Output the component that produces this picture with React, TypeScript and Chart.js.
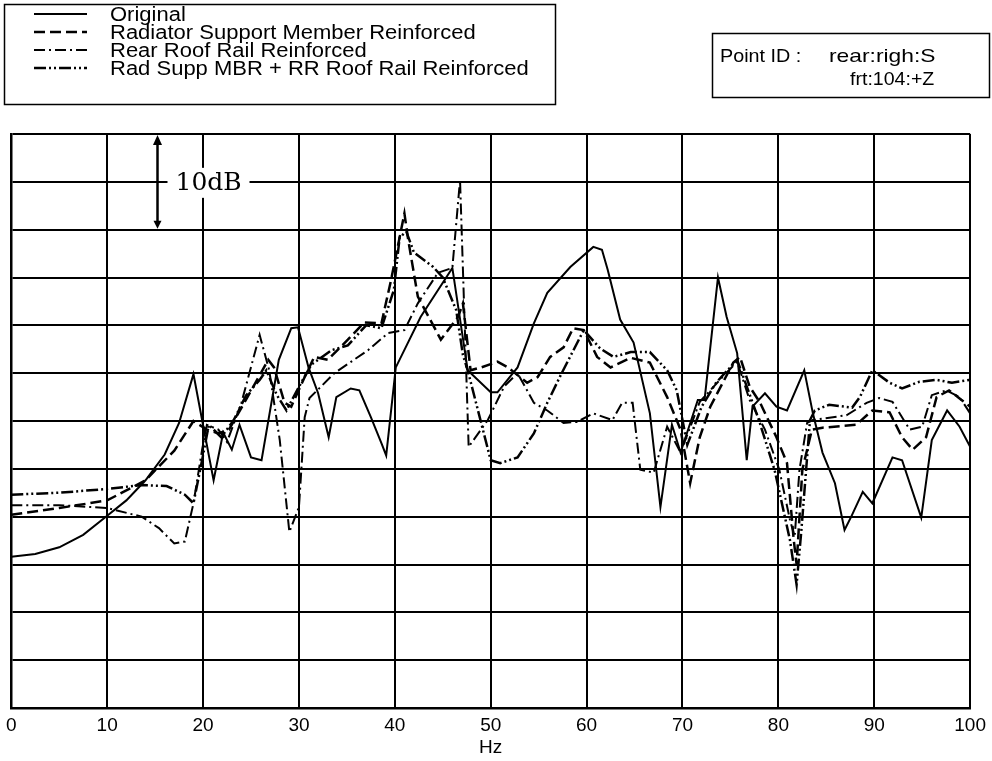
import React, { useEffect, useRef } from 'react';
import { Chart, registerables } from 'chart.js';

Chart.register(...registerables);

// ---- Data (frequency in Hz, relative level in dB; grid = 5 dB) ----
const ORIGINAL_HZ = [0, 2.5, 5, 7.5, 10, 12, 14, 16, 17.5, 19, 19.9, 21.1, 22.1, 23, 23.8, 25, 26.1, 27.9, 29.2, 29.9, 31, 32, 33.1, 33.9, 35.4, 36.3, 37.5, 38.6, 39.1, 40.1, 42.7, 46, 47.6, 50, 50.7, 52.8, 54.5, 55.9, 58.3, 60.7, 61.6, 62.2, 63.5, 64.9, 66.6, 67.7, 68.9, 69.8, 71.6, 72.3, 73.7, 74.6, 75.7, 76.7, 77.3, 78.6, 79.8, 80.9, 82.7, 83.6, 84.6, 85.9, 86.9, 87.6, 88.8, 89.8, 91.9, 92.9, 94.9, 96, 97.6, 98.9, 100];
const ORIGINAL_DB = [15.8, 16.1, 16.8, 18.1, 20.1, 21.7, 23.8, 26.5, 29.8, 34.9, 30.1, 23.8, 28.8, 27, 29.6, 26.2, 25.9, 36.4, 39.7, 39.8, 35.6, 32.9, 28.3, 32.5, 33.4, 33.2, 30.4, 27.7, 26.4, 35.6, 40.9, 46, 35.3, 33, 33, 35.6, 40.2, 43.4, 46.1, 48.2, 47.9, 45.8, 40.6, 38.2, 30.8, 21, 29.6, 26.7, 32.2, 32.2, 45, 40.9, 37.1, 25.9, 31.5, 32.9, 31.5, 31.1, 35.3, 30.8, 26.7, 23.5, 18.6, 20, 22.6, 21.4, 26.2, 25.9, 19.9, 28, 31.1, 29.4, 27.3];

const RADIATOR_HZ = [0, 5, 10, 14, 17, 19, 20.4, 21.6, 22.7, 24.3, 25.8, 26.8, 27.4, 28.5, 29.2, 30.6, 31.6, 33, 35.1, 36.8, 38.6, 39.6, 41, 41.4, 42.4, 44.8, 46.6, 47.1, 47.9, 49, 50.7, 51.8, 53.8, 54.9, 56.2, 57.6, 58.6, 59.7, 61.1, 62.5, 64.6, 66.6, 68.4, 69.8, 70.8, 71.8, 72.9, 75.3, 76, 77, 78.1, 79.8, 80.9, 81.6, 81.9, 82.5, 83.5, 84.6, 88.1, 89.8, 91.6, 92.9, 94, 95.4, 96.5, 97.8, 99.1, 100];
const RADIATOR_DB = [20.2, 20.9, 21.7, 23.8, 26.9, 30, 29.1, 28.7, 29.1, 31.9, 34.6, 36.4, 35.6, 31.9, 31.5, 34.6, 36.7, 36.4, 38.5, 40.3, 40.2, 44.7, 51.7, 48.9, 43, 38.5, 40.9, 42.3, 35.3, 35.6, 36.2, 35.6, 34, 34.6, 36.7, 37.7, 39.7, 39.5, 36.7, 35.6, 36.6, 36.1, 32.5, 29.1, 23.5, 28.3, 31.5, 36.1, 36.7, 33.6, 31.9, 28.3, 25.6, 17.6, 15, 24.9, 29.1, 29.3, 29.6, 31.1, 30.9, 28.3, 27, 28.3, 32.5, 33.2, 32.2, 31.5];

const REAR_ROOF_HZ = [0, 5, 10, 13.6, 15.4, 17, 18.1, 19, 19.9, 20.4, 21.6, 22.5, 24, 25.9, 26.9, 28, 29, 30, 30.6, 31.1, 33.7, 37.2, 39.3, 41, 42.4, 44.5, 46, 46.8, 47.7, 49.7, 51.4, 52.8, 54.5, 55.9, 57.6, 59, 60.7, 62.7, 63.7, 64.8, 65.6, 67, 68.4, 69.8, 71.8, 73.9, 75.7, 77, 78.6, 80.1, 81.2, 81.7, 82.2, 83, 83.6, 87.1, 89.2, 90.5, 91.9, 93.7, 95, 96, 97.5, 98.9, 100];
const REAR_ROOF_DB = [21.2, 21.2, 20.9, 20, 18.8, 17.2, 17.4, 21.4, 27, 29.6, 29.1, 27.8, 31.9, 39, 35.3, 28, 18.4, 21, 30.4, 32.4, 35, 37.4, 39.2, 39.5, 42.3, 45.5, 46, 55.2, 27.3, 30.1, 33.6, 35, 31.9, 31.1, 29.8, 29.9, 30.8, 30.1, 31.9, 31.9, 24.9, 24.6, 29.4, 26.7, 32, 34.3, 36.2, 32.2, 29.1, 24.9, 19.7, 17.9, 24.9, 29.8, 30.1, 30.6, 31.9, 32.4, 32, 29.1, 29.4, 32.7, 33.2, 32.5, 30.8];

const RAD_SUPP_RR_HZ = [0, 5, 10, 13.6, 16.2, 18.1, 19, 19.9, 20.6, 21.9, 23.2, 24.5, 25.9, 26.6, 27.7, 28.7, 29.9, 31.3, 33.4, 35.1, 37, 38.6, 39.9, 40.5, 41.2, 42, 44, 45, 46.4, 47.1, 47.6, 50, 51, 52.8, 54.5, 55.9, 57.3, 59.7, 61.4, 62.8, 64.6, 66.6, 68.4, 69.4, 70.5, 72, 73.5, 75.7, 78, 79.6, 81.2, 81.9, 82.4, 83.3, 83.8, 85.3, 87.7, 88.5, 89.8, 91.6, 92.9, 94.7, 96.5, 98.1, 100];
const RAD_SUPP_RR_DB = [22.3, 22.5, 22.9, 23.3, 23.2, 22.3, 21.4, 25.9, 29.6, 28.3, 30.1, 32.7, 34.3, 35.3, 32.7, 31.1, 33.4, 35.9, 37.4, 37.9, 40, 39.7, 43.7, 49.2, 49.8, 47.6, 46.1, 45, 41.6, 36.9, 35.3, 25.9, 25.6, 26.2, 28.7, 31.9, 34.8, 39.5, 37.6, 36.7, 37.2, 37.2, 35.3, 33.2, 27.5, 31.5, 34, 36.4, 30, 24.9, 17.6, 12.9, 18.6, 30.1, 31.1, 31.7, 31.4, 32.5, 35.3, 34, 33.4, 34.1, 34.3, 34, 34.3];

const SERIES_LABELS = [
  'Original',
  'Radiator Support Member Reinforced',
  'Rear Roof Rail Reinforced',
  'Rad Supp MBR + RR Roof Rail Reinforced',
];
const POINT_ID_TITLE = 'Point ID :';
const POINT_ID_LINES = ['rear:righ:S', 'frt:104:+Z'];
const SCALE_NOTE = '10dB';
const X_TITLE = 'Hz';
const X_MIN = 0;
const X_MAX = 100;
const X_STEP = 10;
const Y_MIN = 0;
const Y_MAX = 60;
const Y_STEP = 5;

const DASHES: number[][] = [[], [11, 5], [11, 4, 2, 4], [12, 3, 2, 3, 2, 3]];
const WIDTHS = [2, 2.5, 2, 2.5];

function zip(xs: number[], ys: number[]) {
  return xs.map((x, i) => ({ x, y: ys[i] }));
}

const SANS = '"Liberation Sans", Arial, sans-serif';

export default function App() {
  const ref = useRef<HTMLCanvasElement>(null);

  useEffect(() => {
    if (!ref.current) return;

    const stretchText = (ctx: CanvasRenderingContext2D, text: string, x: number, y: number, font: string, sx: number) => {
      ctx.save();
      ctx.translate(x, y);
      ctx.scale(sx, 1);
      ctx.font = font;
      ctx.textBaseline = 'middle';
      ctx.textAlign = 'left';
      ctx.fillStyle = '#000';
      ctx.fillText(text, 0, 0);
      ctx.restore();
    };

    const overlay = {
      id: 'overlay',
      afterDraw(chart: any) {
        const ctx: CanvasRenderingContext2D = chart.ctx;
        const xs = chart.scales.x;
        const ys = chart.scales.y;
        ctx.save();
        ctx.strokeStyle = '#000';
        ctx.fillStyle = '#000';

        // Legend box
        ctx.lineWidth = 1.5;
        ctx.setLineDash([]);
        ctx.strokeRect(4.5, 4.5, 551, 100);
        const rows = [14, 32, 50, 68];
        SERIES_LABELS.forEach((label, i) => {
          ctx.beginPath();
          ctx.setLineDash(DASHES[i]);
          ctx.lineWidth = WIDTHS[i];
          ctx.moveTo(34, rows[i]);
          ctx.lineTo(87, rows[i]);
          ctx.stroke();
          ctx.setLineDash([]);
          stretchText(ctx, label, 110, rows[i] + 1, `20px ${SANS}`, 1.1);
        });

        // Point ID box
        ctx.lineWidth = 1.5;
        ctx.strokeRect(712.5, 33.5, 277, 64);
        stretchText(ctx, POINT_ID_TITLE, 720, 57, `19px ${SANS}`, 1.04);
        stretchText(ctx, POINT_ID_LINES[0], 829, 57, `19px ${SANS}`, 1.2);
        stretchText(ctx, POINT_ID_LINES[1], 850, 80, `19px ${SANS}`, 1.03);

        // 10 dB scale marker
        const ax = Math.round(xs.getPixelForValue(15.2)) + 0.5;
        const top = ys.getPixelForValue(Y_MAX);
        const bot = ys.getPixelForValue(Y_MAX - 10);
        const mid = ys.getPixelForValue(Y_MAX - 5);
        ctx.fillStyle = '#fff';
        ctx.fillRect(ax + 10, mid - 14, 82, 30);
        ctx.fillStyle = '#000';
        ctx.lineWidth = 2.5;
        ctx.beginPath();
        ctx.moveTo(ax, top + 8);
        ctx.lineTo(ax, bot - 6);
        ctx.stroke();
        ctx.beginPath();
        ctx.moveTo(ax, top + 1);
        ctx.lineTo(ax - 4.5, top + 11);
        ctx.lineTo(ax + 4.5, top + 11);
        ctx.closePath();
        ctx.fill();
        ctx.beginPath();
        ctx.moveTo(ax, bot - 1);
        ctx.lineTo(ax - 4, bot - 9);
        ctx.lineTo(ax + 4, bot - 9);
        ctx.closePath();
        ctx.fill();
        ctx.font = '25px "DejaVu Serif", "Liberation Serif", serif';
        ctx.textBaseline = 'middle';
        ctx.textAlign = 'left';
        ctx.fillText(SCALE_NOTE, ax + 18, mid + 2);
        ctx.restore();
      },
    };

    const datasets = [
      zip(ORIGINAL_HZ, ORIGINAL_DB),
      zip(RADIATOR_HZ, RADIATOR_DB),
      zip(REAR_ROOF_HZ, REAR_ROOF_DB),
      zip(RAD_SUPP_RR_HZ, RAD_SUPP_RR_DB),
    ].map((data, i) => ({
      label: SERIES_LABELS[i],
      data,
      borderColor: '#000',
      backgroundColor: '#000',
      borderWidth: WIDTHS[i],
      borderDash: DASHES[i],
      pointRadius: 0,
      tension: 0,
      fill: false,
    }));

    const chart = new Chart(ref.current, {
      type: 'line',
      data: { datasets },
      plugins: [overlay],
      options: {
        responsive: false,
        animation: false,
        parsing: true,
        layout: { padding: { left: 9, top: 134, right: 21, bottom: 0 } },
        plugins: {
          legend: { display: false },
          tooltip: { enabled: false },
          title: { display: false },
        },
        scales: {
          x: {
            type: 'linear',
            min: X_MIN,
            max: X_MAX,
            ticks: {
              stepSize: X_STEP,
              color: '#000',
              font: { family: SANS, size: 19 },
              padding: 6,
              maxRotation: 0,
            },
            grid: { color: '#000', lineWidth: 2, drawTicks: false },
            border: { color: '#000', width: 2.5 },
            title: {
              display: true,
              text: X_TITLE,
              color: '#000',
              font: { family: SANS, size: 19 },
              padding: { top: 0, bottom: 2 },
            },
            afterFit(scale: any) {
              scale.height = 53;
            },
          },
          y: {
            type: 'linear',
            min: Y_MIN,
            max: Y_MAX,
            ticks: { stepSize: Y_STEP, display: false },
            grid: { color: '#000', lineWidth: 2, drawTicks: false },
            border: { color: '#000', width: 2.5 },
            afterFit(scale: any) {
              scale.width = 0;
            },
          },
        },
      },
    } as any);

    return () => chart.destroy();
  }, []);

  return (
    <div style={{ position: 'absolute', left: 0, top: 0, width: 992, height: 761, background: '#fff' }}>
      <canvas ref={ref} width={992} height={761} />
    </div>
  );
}
